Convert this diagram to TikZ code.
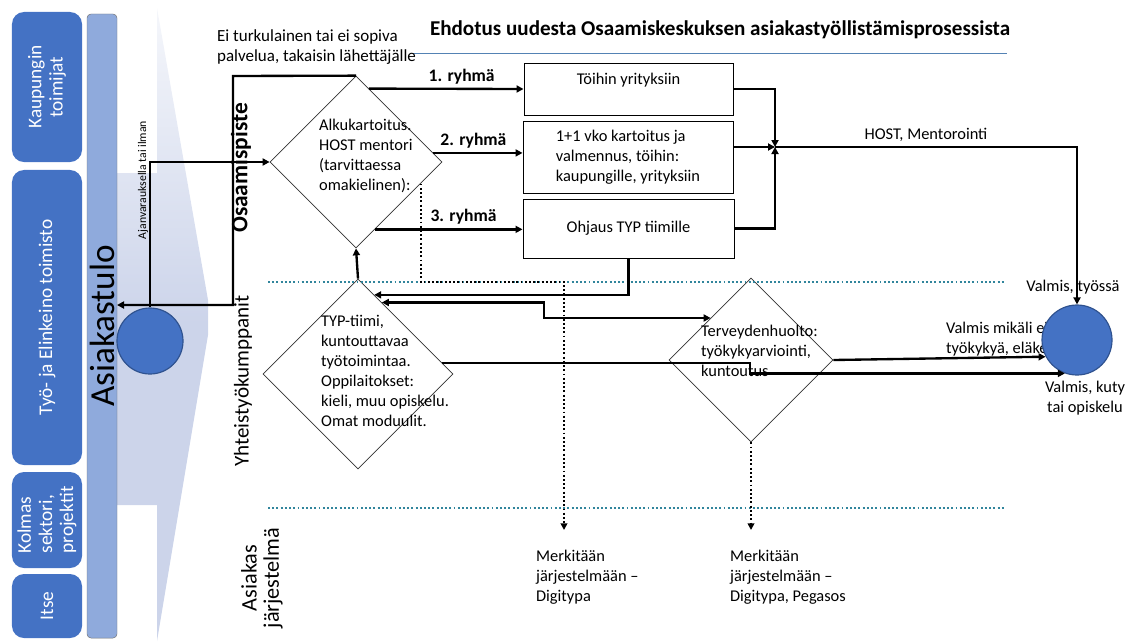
\documentclass[tikz,border=0pt]{standalone}
\usepackage{fontspec}
\setmainfont{Carlito}
\usepackage{tikz}
\usetikzlibrary{shapes.geometric, arrows.meta, positioning, calc}
\definecolor{cBlue}{RGB}{68,114,196}
\definecolor{cBlueDk}{RGB}{47,82,143}
\definecolor{cBar}{RGB}{143,170,220}
\definecolor{cPale}{RGB}{204,212,234}
\definecolor{cDot}{RGB}{49,133,156}
\definecolor{cRule}{RGB}{84,130,180}
\tikzset{
	lane/.style   ={rectangle, rounded corners=3.6mm, fill=cBlue, text=white, rotate=90, minimum height=2.1cm, inner sep=2pt, font=\fontsize{16.5}{18}\selectfont},
	dia/.style    ={diamond, draw=black!80, line width=0.6pt, fill=white, inner sep=0pt},
	box/.style    ={rectangle, draw=black, line width=0.8pt, fill=white, align=left},
	dot/.style    ={circle, fill=cBlue, draw=cBlueDk, line width=1pt, inner sep=0pt},
	arr/.style    ={-{Triangle[length=2.1mm, width=2.1mm]}, line width=2pt},
	arrboth/.style={{Triangle[length=2.1mm, width=2.1mm]}-{Triangle[length=2.1mm, width=2.1mm]}, line width=2pt},
	dotarr/.style ={-{Triangle[length=2mm, width=2mm]}, line width=1.6pt, dotted},
	sepline/.style={cDot, line width=1.6pt, dotted},
	grp/.style    ={font=\fontsize{15}{17}\selectfont\bfseries},
}
\begin{document}
\begin{tikzpicture}[x=0.03cm, y=-0.03cm, font=\fontsize{14}{17}\selectfont]
	\useasboundingbox (0,0) rectangle (1133,641);
	% entry funnel and side bar
	\shade[top color=cPale!20, bottom color=cPale, middle color=cPale] (157,8) -- (208,300) -- (208,335) -- (157,641) -- (157,505) -- (117,505) -- (117,173) -- (157,173) -- cycle;
	\node[lane, minimum width=4.5cm, align=center] (k1) at (47,87) {Kaupungin\\toimijat};
	\node[lane, minimum width=8.85cm] (k2) at (47,317.5) {Työ- ja Elinkeino toimisto};
	\node[lane, minimum width=2.88cm, align=left] (k3) at (47,520) {Kolmas\\sektori,\\projektit};
	\node[lane, minimum width=1.92cm] (k4) at (47,606) {Itse};
	\node[rectangle, rounded corners=1.2mm, draw=black!55, fill=cBar, rotate=90, minimum width=18.72cm, minimum height=0.9cm, inner sep=0pt, font=\fontsize{30}{32}\selectfont] (bar) at (102,326) {Asiakastulo};
	\node[dot, minimum size=1.98cm] (c1) at (150,341) {};

	% titles and lane labels
	\node[font=\fontsize{18}{20}\selectfont\bfseries] (title) at (720,30) {Ehdotus uudesta Osaamiskeskuksen asiakastyöllistämisprosessista};
	\draw[cRule, line width=0.6pt] (413,53) -- (1007,53);
	\node[anchor=west, align=left, font=\fontsize{14.5}{17}\selectfont] (back) at (213,47) {Ei turkulainen tai ei sopiva\\palvelua, takaisin lähettäjälle};
	\node[rotate=90, font=\fontsize{10}{12}\selectfont] (ajan) at (143,180) {Ajanvarauksella tai ilman};
	\node[rotate=90, font=\fontsize{20}{22}\selectfont\bfseries] (osaam) at (241,168) {Osaamispiste};
	\node[rotate=90, font=\fontsize{18}{20}\selectfont] (yht) at (243,381) {Yhteistyökumppanit};
	\node[rotate=90, align=center, font=\fontsize{19}{19}\selectfont] (asjar) at (262,578) {Asiakas\\järjestelmä};

	% decisions and boxes
	\node[dia, minimum width=5.16cm, minimum height=5.16cm] (d1) at (356,162) {};
	\node[anchor=west, align=left] (d1t) at (315,156) {Alkukartoitus.\\HOST mentori\\(tarvittaessa\\omakielinen):};
	\node[dia, minimum width=5.7cm, minimum height=5.7cm] (d2) at (358,374) {};
	\node[anchor=west, align=left] (d2t) at (317,371) {TYP-tiimi,\\kuntouttavaa\\työtoimintaa.\\Oppilaitokset:\\kieli, muu opiskelu.\\Omat moduulit.};
	\node[dia, minimum width=4.92cm, minimum height=4.92cm] (d3) at (751,360) {};
	\node[anchor=west, align=left] (d3t) at (697,351) {Terveydenhuolto:\\työkykyarviointi,\\kuntoutus};
	\node[box, minimum width=6.27cm, minimum height=1.56cm] (b1) at (628.5,89) {Töihin yrityksiin\\[-4pt]\strut};
	\node[box, minimum width=6.3cm, minimum height=2.16cm] (b2) at (628,157) {1+1 vko kartoitus ja\\valmennus, töihin:\\kaupungille, yrityksiin};
	\node[box, minimum width=6.33cm, minimum height=1.77cm] (b3) at (628.5,228.5) {Ohjaus TYP tiimille};

	% results
	\node[anchor=west, align=left] (elake) at (942,339) {Valmis mikäli ei\\työkykyä, eläke};
	\node (tyossa) at (1073,287) {Valmis, työssä};
	\node[align=center] (kuty) at (1085,398) {Valmis, kuty\\tai opiskelu};
	\node[dot, minimum size=2.1cm] (c2) at (1077,340) {};
	\node[anchor=north west, align=left] (m1) at (532,546) {Merkitään\\järjestelmään –\\Digitypa};
	\node[anchor=north west, align=left] (m2) at (726,546) {Merkitään\\järjestelmään –\\Digitypa, Pegasos};

	\draw[sepline] (268,282) -- (1005,282);
	\draw[sepline] (268,508) -- (1005,508);

	% connectors
	\coordinate (retx) at (233,76);
	\coordinate (barin) at (117,305);
	\draw[arr] (c1.north) |- (d1.west);
	\draw[arr] (d1.north) -- (retx) |- (barin);
	\draw[arr] ($(d1.north)!0.15!(d1.east)$) -- (b1.west) node[grp, pos=0.6, above] {1. ryhmä};
	\coordinate (g2) at ($(d1.east)!0.105!(d1.north)$);
	\draw[arr] (g2) -- (g2 -| b2.west) node[grp, pos=0.45, above] {2. ryhmä};
	\coordinate (g3) at ($(d1.south)!0.22!(d1.east)$);
	\draw[arr] (g3) -- (g3 -| b3.west) node[grp, pos=0.6, above] {3. ryhmä};
	\draw[arr] (d2.north) -- (d1.south);

	\coordinate (d1dot) at ($(d1.south)!0.75!(d1.east)$);
	\coordinate (dotc) at (564,282);
	\coordinate (m1in) at (564,530);
	\draw[dotarr] (d1dot) |- (dotc) -- (m1in);
	\draw[dotarr] (d3.south) -- (d3.south |- m1in);

	\draw[arr] (b3.south) |- ($(d2.north)!0.17!(d2.east)$);
	\coordinate (kink1) at (544,310);
	\draw[arrboth] ($(d2.north)!0.25!(d2.east)$) -| (kink1) |- ($(d3.north)!0.49!(d3.west)$);
	\coordinate (kink2) at (750,370);
	\draw[arr] ($(d2.east)!0.116!(d2.north)$) -| (kink2) |- (c2.250);
	\draw[arr] (d3.east) -- (c2.208);

	\coordinate (jn) at (775,147);
	\draw[arr] (b1.east) -| (jn);
	\draw[arr] (b2.east |- jn) -- (jn);
	\draw[arr] (b3.east) -| (jn);
	\draw[arr] (jn) -| (c2.north) node[pos=0.25, above] {HOST, Mentorointi};
\end{tikzpicture}
\end{document}
